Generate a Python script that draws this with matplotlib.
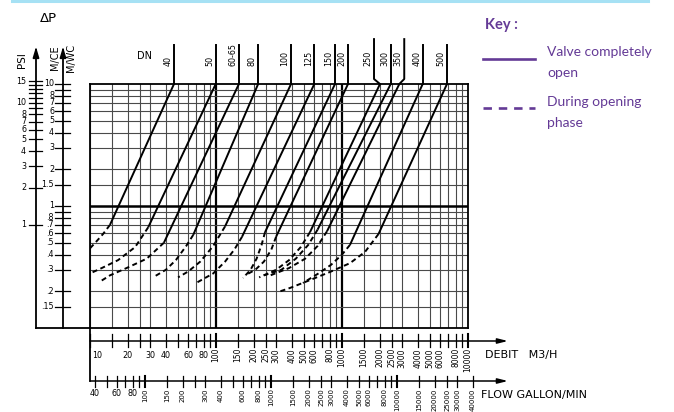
import matplotlib
matplotlib.use("Agg")
import matplotlib.pyplot as plt
from matplotlib.lines import Line2D
from matplotlib.transforms import offset_copy

# ── chart data ──────────────────────────────────────────────────────────────
DN_LABELS = ["40", "50", "60-65", "80", "100", "125", "150", "200",
             "250", "300", "350", "400", "500"]
# flow (m3/h) where each solid line meets the top of the grid (dP = 10 m)
Q_TOP = [46.4, 99.5, 152, 216, 394, 603, 880, 1116, 2002, 2435, 2851, 4369, 6810]
# flow of the leader line above the grid (differs where the leader bends)
Q_LEAD = [46.4, 99.5, 152, 216, 394, 603, 880, 1116, 1795, 2435, 3119, 4369, 6810]
# end of the solid line (valve fully open) -> start of the dashed curve
Q_OPEN = [14.4, 29.0, 38.6, 66.0, 118, 161, 245, 300, 557, 640, 760, 1157, 1950]
P_OPEN = [0.70, 0.67, 0.50, 0.58, 0.68, 0.56, 0.61, 0.56, 0.61, 0.64, 0.62, 0.48, 0.59]
# dashed curves (opening phase)
DASH_Q = [
    [14.4, 12.7, 11.2, 10.0],
    [29.0, 22.8, 16.7, 12.4, 10.0],
    [38.6, 28.2, 19.5, 14.4, 12.0],
    [66.0, 58.0, 48.0, 40.0, 31.6],
    [118, 95, 75, 60, 50],
    [161, 140, 118, 95, 69.6],
    [245, 230, 210, 188, 164],
    [300, 275, 240, 205, 170],
    [557, 470, 380, 300, 220],
    [640, 540, 430, 330, 240],
    [760, 640, 510, 380, 270],
    [1157, 1000, 820, 650, 490],
    [1950, 1522, 1157, 803, 557, 387, 310],
]
DASH_P = [
    [0.70, 0.59, 0.51, 0.45],
    [0.67, 0.46, 0.36, 0.31, 0.28],
    [0.50, 0.37, 0.31, 0.27, 0.24],
    [0.58, 0.47, 0.36, 0.30, 0.26],
    [0.68, 0.47, 0.35, 0.29, 0.26],
    [0.56, 0.44, 0.35, 0.28, 0.234],
    [0.61, 0.48, 0.37, 0.30, 0.257],
    [0.56, 0.44, 0.35, 0.30, 0.27],
    [0.61, 0.46, 0.36, 0.30, 0.26],
    [0.64, 0.48, 0.37, 0.30, 0.27],
    [0.62, 0.47, 0.37, 0.31, 0.27],
    [0.48, 0.40, 0.33, 0.28, 0.234],
    [0.59, 0.42, 0.34, 0.288, 0.247, 0.213, 0.197],
]

# grid lines
X_GRID = [m * d for d in (10, 100, 1000) for m in (1, 1.5, 2, 2.5, 3, 4, 5, 6, 7, 8, 9)]
Y_GRID = [0.15, 0.2, 0.3, 0.4, 0.5, 0.6, 0.7, 0.8, 0.9, 1,
          1.5, 2, 3, 4, 5, 6, 7, 8, 9]

# bottom scales
DEBIT_TICKS = X_GRID + [10000]
DEBIT_LABELS = [10, 20, 30, 40, 60, 80, 100, 150, 200, 250, 300, 400, 500, 600, 800,
                1000, 1500, 2000, 2500, 3000, 4000, 5000, 6000, 8000, 10000]
GPM_TICKS = [40, 50, 60, 70, 80, 90, 100, 150, 200, 250, 300, 400, 500, 600, 700, 800,
             900, 1000, 1500, 2000, 2500, 3000, 4000, 5000, 6000, 7000, 8000, 9000,
             10000, 15000, 20000, 25000, 30000, 40000]
GPM_LABELS = [40, 60, 80, 100, 150, 200, 300, 400, 600, 800, 1000, 1500, 2000, 2500,
              3000, 4000, 5000, 6000, 8000, 10000, 15000, 20000, 25000, 30000, 40000]
GPM_PER_M3H = 3.666   # imperial gallons / min per m3/h

# left scales
PSI_TICKS = [15, 14, 13, 12, 11, 10, 9, 8, 7, 6, 5, 4, 3, 2, 1]
PSI_LABELS = [15, 10, 8, 7, 6, 5, 4, 3, 2, 1]
M_PER_PSI = 0.70307
MCE_TICKS = [10, 9, 8, 7, 6, 5, 4, 3, 2, 1.5, 1, 0.9, 0.8, 0.7, 0.6, 0.5, 0.4, 0.3, 0.2, 0.15]
MCE_LABELS = ["10", "8", "7", "6", "5", "4", "3", "2", "1.5", "1",
              ".8", ".7", ".6", ".5", ".4", ".3", ".2", ".15"]
MCE_LABEL_VALS = [10, 8, 7, 6, 5, 4, 3, 2, 1.5, 1, 0.8, 0.7, 0.6, 0.5, 0.4, 0.3, 0.2, 0.15]

PURPLE = "#643a96"

# ── figure ──────────────────────────────────────────────────────────────────
W, H = 674, 412
fig = plt.figure(figsize=(W / 100, H / 100), dpi=100)
fig.patch.set_facecolor("white")

def fx(px):          # pixel -> axes fraction (x)
    return (px - 90) / 378

def fy(py):          # pixel -> axes fraction (y)
    return (328 - py) / 244

ax = fig.add_axes([90 / W, (H - 328) / H, 378 / W, 244 / H])
ax.set_xscale("log")
ax.set_yscale("log")
ax.set_xlim(10, 10000)
ax.set_ylim(0.1, 10)
ax.tick_params(which="both", length=0, labelbottom=False, labelleft=False)
for s in ax.spines.values():
    s.set_linewidth(1.3)

for x in X_GRID:
    bold = x in (100, 1000)
    ax.axvline(x, color="black" if bold else "#4a4a4a",
               lw=1.6 if bold else 0.8, zorder=1)
for y in Y_GRID:
    bold = y == 1
    ax.axhline(y, color="black" if bold else "#4a4a4a",
               lw=1.8 if bold else 0.8, zorder=1)

DASH = (0, (2.6, 1.8))
xt = ax.get_xaxis_transform()   # x data, y axes
yt = ax.get_yaxis_transform()   # x axes, y data

for i, dn in enumerate(DN_LABELS):
    ax.plot([Q_TOP[i], Q_OPEN[i]], [10, P_OPEN[i]], color="black", lw=1.4,
            solid_capstyle="butt", zorder=3)
    ax.plot(DASH_Q[i], DASH_P[i], color="black", lw=1.4, linestyle=DASH, zorder=3)
    top = 1.184 if dn in ("250", "350") else 1.160
    if Q_LEAD[i] != Q_TOP[i]:
        ax.plot([Q_LEAD[i], Q_LEAD[i], Q_TOP[i]], [top, fy(79), 1.0], color="black",
                lw=1.4, transform=xt, clip_on=False)
    else:
        ax.plot([Q_LEAD[i], Q_LEAD[i]], [top, 1.0], color="black", lw=1.4,
                transform=xt, clip_on=False)
    ax.text(Q_LEAD[i], fy(66.5), dn, rotation=90, ha="right", va="bottom",
            fontsize=5.8, transform=offset_copy(xt, fig, x=-1.5, units="dots"))

fig.text(145 / W, 1 - 56 / H, "DN", fontsize=7, ha="center", va="center")

# ── left pressure scales ────────────────────────────────────────────────────
for xp in (36, 63):
    ax.plot([fx(xp), fx(xp)], [0, fy(52)], color="black", lw=1.3,
            transform=ax.transAxes, clip_on=False)
    ax.annotate("", xy=(fx(xp), fy(44)), xytext=(fx(xp), fy(54)),
                xycoords="axes fraction",
                arrowprops=dict(arrowstyle="-|>,head_length=0.6,head_width=0.18",
                                color="black", lw=1.3))
ax.plot([fx(36), 0], [0, 0], color="black", lw=1.3, transform=ax.transAxes,
        clip_on=False)

for v in PSI_TICKS:
    ax.plot([fx(29), fx(42)], [v * M_PER_PSI] * 2, color="black", lw=0.9,
            transform=yt, clip_on=False)
for v in PSI_LABELS:
    ax.text(fx(26), v * M_PER_PSI, str(v), ha="right", va="center", fontsize=5.8,
            transform=yt)
for v in MCE_TICKS:
    ax.plot([fx(55), fx(70)], [v, v], color="black", lw=0.9, transform=yt,
            clip_on=False)
for lab, v in zip(MCE_LABELS, MCE_LABEL_VALS):
    ax.text(fx(54), v, lab, ha="right", va="center", fontsize=5.8, transform=yt)

fig.text(48 / W, 1 - 19 / H, "\u0394P", fontsize=9.5, ha="center", va="center")
fig.text(22 / W, 1 - 60 / H, "PSI", fontsize=7.5, rotation=90, ha="center", va="center")
fig.text(55 / W, 1 - 58 / H, "M/CE", fontsize=7, rotation=90, ha="center", va="center")
fig.text(71.5 / W, 1 - 58 / H, "M/WC", fontsize=7, rotation=90, ha="center", va="center")

# ── bottom flow scales ──────────────────────────────────────────────────────
ax.plot([10, 10], [0, fy(381)], color="black", lw=1.3, transform=xt, clip_on=False)
for yline in (341, 381):
    ax.annotate("", xy=(20750, fy(yline)), xytext=(10, fy(yline)), xycoords=xt,
                arrowprops=dict(arrowstyle="-|>,head_length=0.6,head_width=0.15",
                                color="black", lw=1.1, shrinkA=0, shrinkB=0))

for v in DEBIT_TICKS:
    ax.plot([v, v], [fy(334), fy(347)], color="black",
            lw=1.5 if v in (100, 1000, 10000) else 0.9, transform=xt, clip_on=False)
for v in DEBIT_LABELS:
    if v < 100:
        ax.text(v, fy(355), str(v), ha="left" if v == 10 else "center", va="center",
                fontsize=5.8, transform=offset_copy(xt, fig, x=2 if v == 10 else 0,
                                                    units="dots"))
    else:
        ax.text(v, fy(348), str(v), ha="center", va="top", rotation=90,
                fontsize=5.5, transform=xt)

for g in GPM_TICKS:
    v = g / GPM_PER_M3H
    ax.plot([v, v], [fy(376), fy(387)], color="black",
            lw=1.5 if g in (100, 1000, 10000) else 0.9, transform=xt, clip_on=False)
for g in GPM_LABELS:
    v = g / GPM_PER_M3H
    if g < 100:
        ax.text(v, fy(394), str(g), ha="center", va="center", fontsize=5.8,
                transform=xt)
    else:
        ax.text(v, fy(388.5), str(g), ha="center", va="top", rotation=90,
                fontsize=5.0, transform=xt)

fig.text(485 / W, 1 - 355 / H, "DEBIT   M3/H", fontsize=8, ha="left", va="center")
fig.text(481 / W, 1 - 395 / H, "FLOW GALLON/MIN", fontsize=8, ha="left", va="center")

# ── key ─────────────────────────────────────────────────────────────────────
fig.add_artist(Line2D([12 / W, 648 / W], [1 - 1 / H] * 2, color="#a6e1f4", lw=2.2))
fig.text(485 / W, 1 - 25 / H, "Key :", color=PURPLE, fontsize=10.5,
         fontweight="bold", family="Lato", ha="left", va="center")
fig.add_artist(Line2D([483 / W, 535 / W], [1 - 58.5 / H] * 2, color=PURPLE, lw=1.9))
fig.add_artist(Line2D([483 / W, 535 / W], [1 - 107.5 / H] * 2, color=PURPLE, lw=1.9,
                      linestyle=(0, (3.2, 2.6))))
for txt, yy in (("Valve completely", 52), ("open", 73),
                ("During opening", 102), ("phase", 123)):
    fig.text(547 / W, 1 - yy / H, txt, color=PURPLE, fontsize=10, family="Lato",
             ha="left", va="center")

fig.savefig("out.png", dpi=100, facecolor="white")
